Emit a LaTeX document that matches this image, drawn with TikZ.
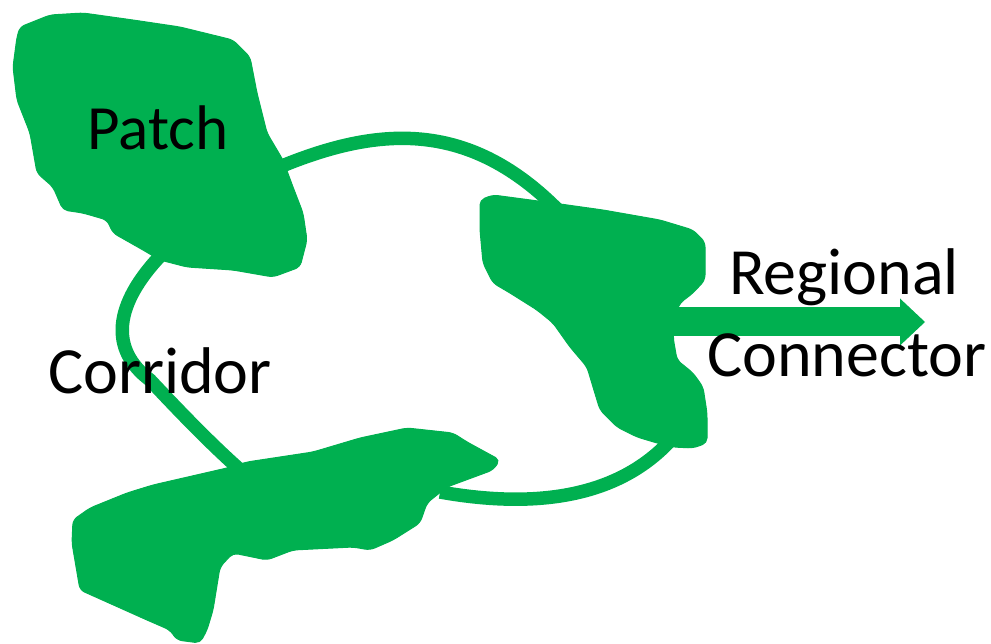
\documentclass[tikz,border=0pt]{standalone}
\usepackage{fontspec}
\setmainfont{Carlito}
\usetikzlibrary{arrows.meta}
\definecolor{patchgreen}{RGB}{0,176,80}
\tikzset{
  patchshape/.style={fill=patchgreen, draw=patchgreen, line width=1pt, rounded corners=5pt},
  corridorline/.style={draw=patchgreen, line width=13.5pt},
  connectorarrow/.style={draw=patchgreen, line width=29pt,
    -{Triangle[width=47pt,length=25pt,line width=0pt,fill=patchgreen]}},
  lbl/.style={inner sep=0pt, anchor=base, text=black, font=\fontsize{66}{79}\selectfont}
}
\begin{document}
\begin{tikzpicture}[x=1pt,y=-1pt]
\useasboundingbox (0,0) rectangle (991,644);
% corridors
\coordinate (c1a) at (282,166);
\coordinate (c1b) at (560,212);
\coordinate (c2a) at (164,252);
\coordinate (c2m) at (150,380);
\coordinate (c2b) at (238,468);
\coordinate (c3a) at (440,492);
\coordinate (c3b) at (670,441);
\coordinate (arrA) at (655,322);
\coordinate (arrB) at (925,322);
\draw[corridorline] (c1a) .. controls (380,126) and (470,120) .. (c1b);
\draw[corridorline] (c2a) .. controls (112,305) and (110,350) .. (c2m) .. controls (180,412) and (210,443) .. (c2b);
\draw[corridorline] (c3a) .. controls (530,508) and (615,500) .. (c3b);
% patches
\fill[patchshape] (20,27) -- (50,15) -- (83,13) -- (133,20) -- (180,27) -- (233,40) -- (250,57) -- (257,93) -- (267,133) -- (283,160) -- (293,187) -- (303,213) -- (307,240) -- (300,267) -- (273,277) -- (233,270) -- (187,267) -- (160,260) -- (143,250) -- (113,233) -- (107,220) -- (83,213) -- (63,210) -- (53,187) -- (37,173) -- (30,133) -- (17,100) -- (13,67) -- (17,37) -- cycle;
\fill[patchshape] (480,200) -- (493,195) -- (553,203) -- (603,210) -- (660,220) -- (693,230) -- (705,242) -- (705,280) -- (693,293) -- (680,303) -- (677,310) -- (673,337) -- (677,360) -- (693,373) -- (703,387) -- (707,413) -- (707,443) -- (693,448) -- (673,447) -- (657,443) -- (637,437) -- (617,427) -- (600,410) -- (593,387) -- (587,367) -- (570,347) -- (553,323) -- (537,310) -- (510,293) -- (493,283) -- (483,263) -- (480,230) -- cycle;
\fill[patchshape] (73,520) -- (90,508) -- (127,493) -- (153,485) -- (227,468) -- (247,462) -- (313,452) -- (360,438) -- (407,428) -- (453,433) -- (467,442) -- (500,460) -- (493,470) -- (447,487) -- (427,503) -- (420,523) -- (393,540) -- (370,550) -- (353,547) -- (293,550) -- (267,560) -- (233,553) -- (220,567) -- (213,610) -- (207,630) -- (200,643) -- (177,640) -- (170,630) -- (147,620) -- (80,590) -- (72,543) -- cycle;
% regional connector arrow
\draw[connectorarrow] (arrA) -- (arrB);
% labels
\node[lbl, font=\fontsize{63}{75}\selectfont] (patch) at (158,150) {Patch};
\node[lbl] (corridor) at (160,393) {Corridor};
\node[lbl] (regional) at (844,295) {Regional};
\node[lbl] (connector) at (847,377) {Connector};
\end{tikzpicture}
\end{document}
